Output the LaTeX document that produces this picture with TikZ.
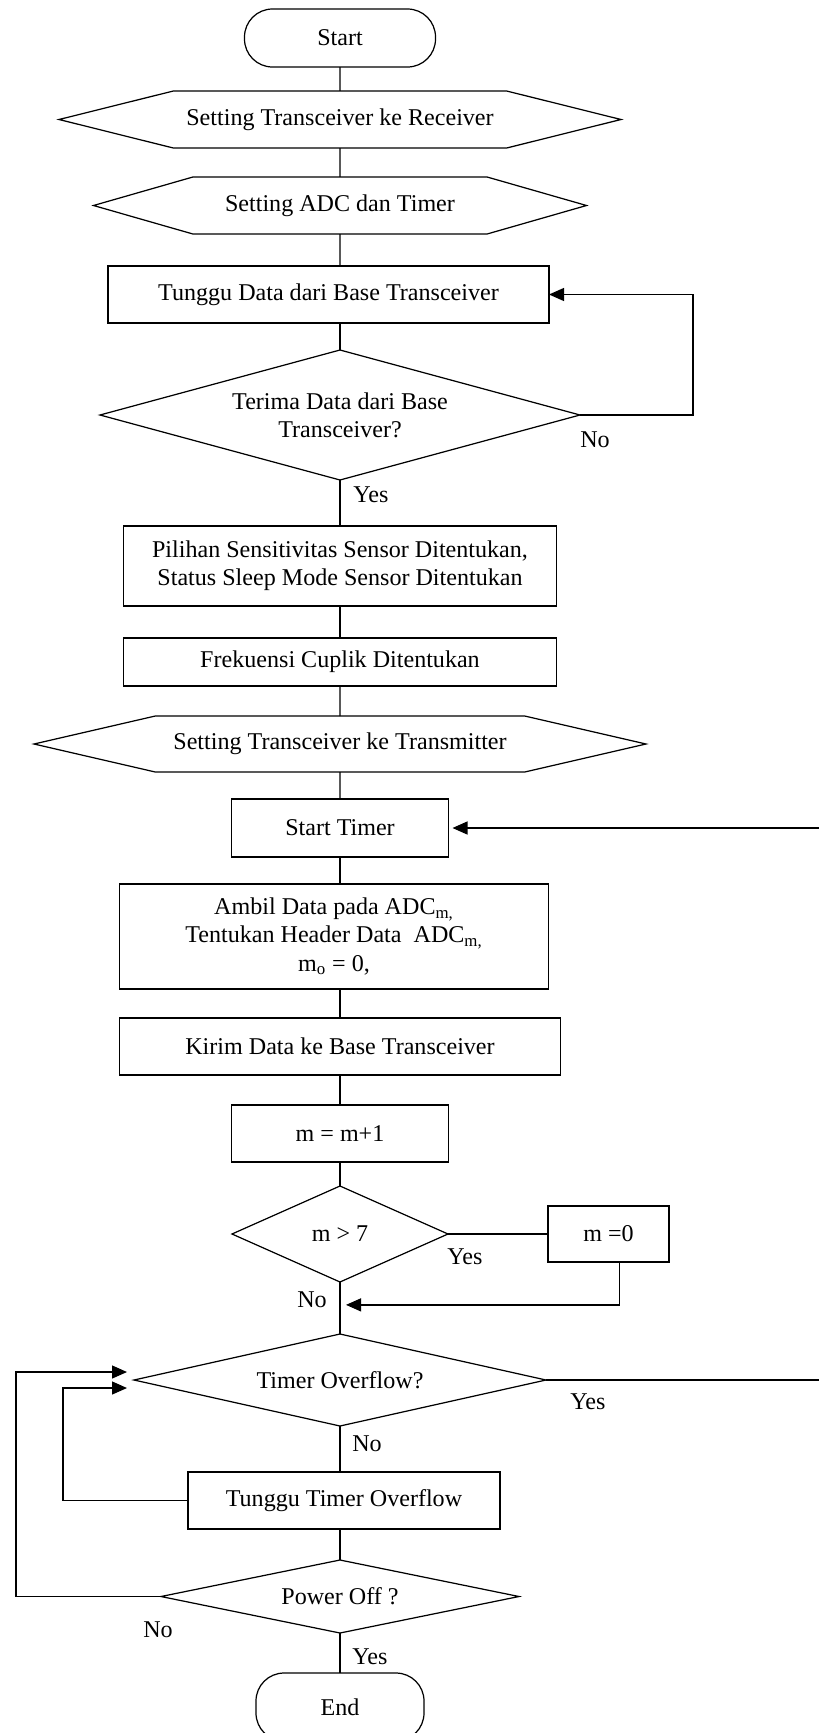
\documentclass[tikz,border=0pt]{standalone}
\usepackage{fontspec}
\setmainfont{Liberation Serif}
\usetikzlibrary{arrows.meta,positioning,shapes.geometric,shapes.symbols,calc}
\newcommand{\fcfont}{\fontsize{13.7pt}{16pt}\selectfont}
\tikzset{
  term/.style={rectangle, rounded corners=0.56cm, draw, line width=0.7pt, font=\fcfont,
               minimum width=3.82cm, minimum height=1.16cm, outer sep=0pt},
  prep/.style={signal, signal to=east and west, draw, line width=0.7pt, font=\fcfont,
               minimum height=1.14cm, inner sep=1pt, outer sep=0pt},
  proc/.style={rectangle, draw, line width=0.7pt, align=center, font=\fcfont,
               minimum height=1.14cm, inner sep=2pt, outer sep=0pt},
  cond/.style={diamond, draw, line width=0.7pt, align=center, font=\fcfont, inner sep=0pt, outer sep=0pt},
  flow/.style={line width=0.7pt},
  farr/.style={-{Triangle[length=3mm,width=2.6mm]}, line width=0.7pt},
  yn/.style={font=\fcfont, inner sep=0pt},
}

\begin{document}
\begin{tikzpicture}
        \useasboundingbox (0,0) rectangle (16.38,-34.66);
        \node[term](start) at (6.80,-0.76){Start};
        \node[prep, minimum width=11.24cm, signal pointer angle=28, below=0.48cm of start](setrx){Setting Transceiver ke Receiver};
        \node[prep, minimum width=9.86cm, signal pointer angle=32, below=0.58cm of setrx](setadc){Setting ADC dan Timer};
        \node[proc, minimum width=8.82cm, below=0.64cm of setadc, xshift=-0.23cm](waitrx){Tunggu Data dari Base Transceiver};
        \node[cond, minimum width=9.6cm, minimum height=2.6cm, shape aspect=3.7, below=0.54cm of waitrx, xshift=0.23cm](gotrx){Terima Data dari Base\\Transceiver?};
        \node[proc, minimum width=8.66cm, minimum height=1.6cm, below=0.92cm of gotrx](sens){Pilihan Sensitivitas Sensor Ditentukan,\\Status Sleep Mode Sensor Ditentukan};
        \node[proc, minimum width=8.66cm, minimum height=0.96cm, below=0.64cm of sens](fsamp){Frekuensi Cuplik Ditentukan};
        \node[prep, minimum width=12.24cm, minimum height=1.12cm, signal pointer angle=26, below=0.6cm of fsamp](settx){Setting Transceiver ke Transmitter};
        \node[proc, minimum width=4.34cm, minimum height=1.16cm, below=0.54cm of settx](tstart){Start Timer};
        \node[proc, minimum width=8.58cm, minimum height=2.1cm, below=0.54cm of tstart, xshift=-0.12cm](adc){Ambil Data pada ADC\textsubscript{m,}\\Tentukan Header Data\ \ ADC\textsubscript{m,}\\m\textsubscript{o} = 0,};
        \node[proc, minimum width=8.82cm, below=0.58cm of adc, xshift=0.12cm](send){Kirim Data ke Base Transceiver};
        \node[proc, minimum width=4.34cm, below=0.6cm of send](incm){m = m+1};
        \node[cond, minimum width=4.32cm, minimum height=1.92cm, shape aspect=2.25, below=0.48cm of incm](mmax){m > 7};
        \node[proc, minimum width=2.42cm, minimum height=1.12cm, right=2cm of mmax](mzero){m =0};
        \node[cond, minimum width=8.24cm, minimum height=1.84cm, shape aspect=4.5, below=1.04cm of mmax](tover){Timer Overflow?};
        \node[proc, minimum width=6.24cm, below=0.92cm of tover, xshift=0.08cm](waitov){Tunggu Timer Overflow};
        \node[cond, minimum width=7.16cm, minimum height=1.46cm, shape aspect=4.9, below=0.62cm of waitov, xshift=-0.08cm](poff){Power Off ?};
        \node[term, minimum width=3.36cm, minimum height=1.36cm, below=0.8cm of poff](stop){End};
        \coordinate[xshift=0.12cm](merge) at ($(mmax.south)!0.44!(tover.north)$);

        \draw[flow](start)--(setrx);
        \draw[flow](setrx)--(setadc);
        \draw[flow](setadc)--(setadc.south |- waitrx.north);
        \draw[flow](gotrx.north |- waitrx.south)--(gotrx);
        \draw[farr](gotrx.east) node[yn, xshift=0.3cm, yshift=-0.5cm]{No} -- ++(2.26,0) |- (waitrx.east);
        \draw[flow](gotrx.south) node[yn, xshift=0.62cm, yshift=-0.3cm]{Yes} -- (sens);
        \draw[flow](sens)--(fsamp);
        \draw[flow](fsamp)--(settx);
        \draw[flow](settx)--(tstart);
        \draw[flow](tstart.south)--(tstart.south |- adc.north);
        \draw[flow](send.north |- adc.south)--(send.north);
        \draw[flow](send)--(incm);
        \draw[flow](incm)--(mmax);
        \draw[flow](mmax.east) node[yn, xshift=0.34cm, yshift=-0.46cm]{Yes} -- (mzero.west |- mmax.east);
        \draw[farr]([xshift=0.22cm]mzero.south) |- (merge);
        \draw[flow](mmax.south) node[yn, xshift=-0.56cm, yshift=-0.36cm]{No} -- (tover.north);
        \draw[farr](tover.east) node[yn, xshift=0.84cm, yshift=-0.44cm]{Yes} -- ++(5.54,0) |- ([xshift=0.08cm]tstart.east);
        \draw[flow](tover.south) node[yn, xshift=0.54cm, yshift=-0.36cm]{No} -- (tover.south |- waitov.north);
        \draw[farr](waitov.west) -- ++(-2.5,0) |- ([shift={(-0.14cm,-0.16cm)}]tover.west);
        \draw[flow](poff.north |- waitov.south)--(poff.north);
        \draw[farr](poff.west) node[yn, xshift=-0.06cm, yshift=-0.66cm]{No} -- ++(-2.9,0) |- ([shift={(-0.14cm,0.16cm)}]tover.west);
        \draw[flow](poff.south) node[yn, xshift=0.6cm, yshift=-0.48cm]{Yes} -- (stop);
    \end{tikzpicture}
\end{document}
